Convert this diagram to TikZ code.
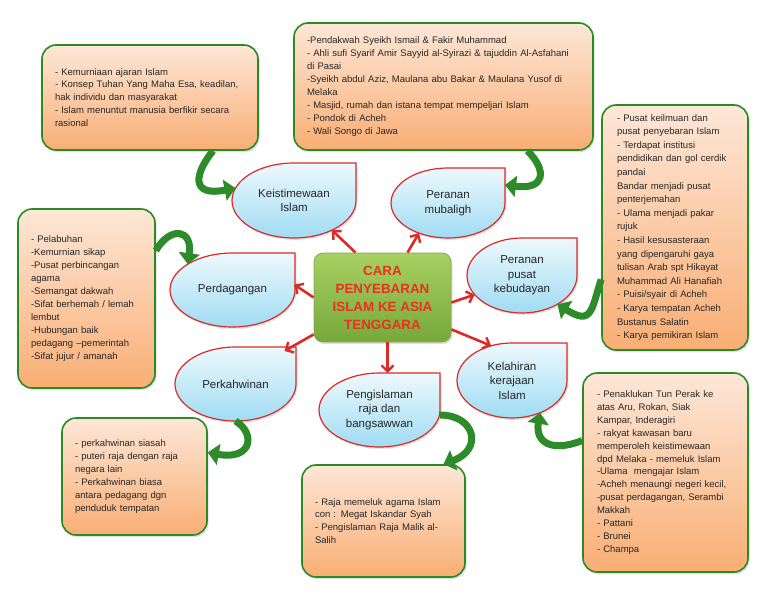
\documentclass[tikz,border=0pt]{standalone}
\usepackage{fontspec}
\setmainfont{Liberation Sans}
\usetikzlibrary{arrows.meta, positioning, backgrounds, calc, shapes.geometric, shadows}
\definecolor{notegreen}{HTML}{2B8A24}
\definecolor{notetop}{HTML}{FDE7D7}
\definecolor{notebottom}{HTML}{F9AE74}
\definecolor{dropred}{HTML}{DC2A26}
\definecolor{droptop}{HTML}{EDF9FD}
\definecolor{dropbottom}{HTML}{A0DCF3}
\definecolor{maintop}{HTML}{A8D063}
\definecolor{mainbottom}{HTML}{77A83A}
\definecolor{mainred}{HTML}{E8321C}
\definecolor{curlgreen}{HTML}{2E8B2A}

\begin{document}
\begin{tikzpicture}[
    x=1pt, y=1pt,
    note/.style={
        draw=notegreen, line width=1.6pt, top color=notetop, bottom color=notebottom,
        rectangle, rounded corners=14pt, align=left,
        inner xsep=13pt, inner ysep=4pt,
        font=\fontsize{9.5}{12.9}\selectfont, text=black!85,
        drop shadow={opacity=0.25, shadow xshift=1.5pt, shadow yshift=-2pt}
    },
    bubble/.style={
        ellipse, inner sep=0pt, outer sep=0pt, align=center,
        font=\fontsize{11.5}{14.5}\selectfont, text=black!85
    },
    drop/.style={
        draw=dropred, line width=1.2pt, top color=droptop, bottom color=dropbottom,
        drop shadow={opacity=0.2, shadow xshift=1.5pt, shadow yshift=-2pt}
    },
    main/.style={
        draw=maintop!80!black, thick, top color=maintop, bottom color=mainbottom,
        rectangle, rounded corners=9pt, align=center,
        minimum width=137pt, minimum height=89pt,
        font=\fontsize{13.4}{18}\bfseries, text=mainred,
        drop shadow={opacity=0.25, shadow xshift=1.5pt, shadow yshift=-2pt}
    },
    arr/.style={
        -{Straight Barb[length=6pt, width=12pt, line width=2.4pt]}, line width=2.6pt, draw=dropred
    },
    curl/.style={
        -{Triangle[length=11pt, width=21pt]}, line width=7pt, draw=curlgreen
    },
]
\useasboundingbox (0,0) rectangle (768,-594);

\node[main] (cara) at (382.5,-297.5) {CARA\\PENYEBARAN\\ISLAM KE ASIA\\TENGGARA};

\node[bubble, minimum width=124pt, minimum height=75pt] (keist) at (294,-200.5) {Keistimewaan\\Islam};
\node[bubble, minimum width=114pt, minimum height=70pt] (mubaligh) at (448,-203) {Peranan\\mubaligh};
\node[bubble, minimum width=125pt, minimum height=74pt] (dagang) at (232.5,-290) {Perdagangan};
\node[bubble, minimum width=110pt, minimum height=75pt] (budaya) at (522,-275.5) {Peranan\\pusat\\kebudayan};
\node[bubble, minimum width=121pt, minimum height=74pt] (kahwin) at (235.5,-384) {Perkahwinan};
\node[bubble, minimum width=121pt, minimum height=74pt] (raja) at (379.5,-410) {Pengislaman\\raja dan\\bangsawwan};
\node[bubble, minimum width=110pt, minimum height=75pt] (lahir) at (512,-380.5) {Kelahiran\\kerajaan\\Islam};

\begin{scope}[on background layer]
\foreach \b in {keist, mubaligh, dagang, budaya, kahwin, raja, lahir}
    \path[drop] let \p1=(\b.east), \p2=(\b.north), \p3=(\b.center) in
        (\b.north) -- (\b.north -| \b.east) -- (\b.east)
        arc[start angle=0, end angle=-270, x radius={\x1-\x3}, y radius={\y2-\y3}] -- cycle;
\end{scope}

\node[note, text width=190pt, minimum height=105pt] (keistnote) at (150,-97.5)
    {- Kemurniaan ajaran Islam\\- Konsep Tuhan Yang Maha Esa, keadilan,\\hak individu dan masyarakat\\- Islam menuntut manusia berfikir secara\\rasional};
\node[note, text width=273pt, minimum height=127pt] (mubalighnote) at (443.5,-86.5)
    {-Pendakwah Syeikh Ismail \& Fakir Muhammad\\- Ahli sufi Syarif Amir Sayyid al-Syirazi \& tajuddin Al-Asfahani\\di Pasai\\-Syeikh abdul Aziz, Maulana abu Bakar \& Maulana Yusof di\\Melaka\\- Masjid, rumah dan istana tempat mempeljari Islam\\- Pondok di Acheh\\- Wali Songo di Jawa};
\node[note, text width=116pt, inner xsep=15pt, minimum height=245pt,
      font=\fontsize{9.5}{13.6}\selectfont] (budayanote) at (675,-227.5)
    {- Pusat keilmuan dan\\pusat penyebaran Islam\\- Terdapat institusi\\pendidikan dan gol cerdik\\pandai\\Bandar menjadi pusat\\penterjemahan\\- Ulama menjadi pakar\\rujuk\\- Hasil kesusasteraan\\yang dipengaruhi gaya\\tulisan Arab spt Hikayat\\Muhammad Ali Hanafiah\\- Puisi/syair di Acheh\\- Karya tempatan Acheh\\Bustanus Salatin\\- Karya pemikiran Islam};
\node[note, text width=111pt, minimum height=179pt] (dagangnote) at (86.5,-298.5)
    {- Pelabuhan\\-Kemurnian sikap\\-Pusat perbincangan\\agama\\-Semangat dakwah\\-Sifat berhemah / lemah\\lembut\\-Hubungan baik\\pedagang --pemerintah\\-Sifat jujur / amanah};
\node[note, text width=119pt, minimum height=117pt] (kahwinnote) at (134.5,-476.5)
    {- perkahwinan siasah\\- puteri raja dengan raja\\negara lain\\- Perkahwinan biasa\\antara pedagang dgn\\penduduk tempatan};
\node[note, text width=137pt, minimum height=112pt] (rajanote) at (383.5,-521)
    {- Raja memeluk agama Islam\\con : Megat Iskandar Syah\\- Pengislaman Raja Malik al-\\Salih};
\node[note, text width=137pt, inner xsep=14pt, minimum height=199pt] (lahirnote) at (665.5,-472.5)
    {- Penaklukan Tun Perak ke\\atas Aru, Rokan, Siak\\Kampar, Inderagiri\\- rakyat kawasan baru\\memperoleh keistimewaan\\dpd Melaka - memeluk Islam\\-Ulama\ \ mengajar Islam\\-Acheh menaungi negeri kecil,\\-pusat perdagangan, Serambi\\Makkah\\- Pattani\\- Brunei\\- Champa};

% red arrows from the centre
\draw[arr] ([xshift=-27pt]cara.north) -- (keist.-38);
\draw[arr] ([xshift=25pt]cara.north) -- (mubaligh.-134);
\draw[arr] (cara.west) -- (dagang.5);
\draw[arr] ([yshift=-5pt]cara.east) -- (budaya.-158);
\draw[arr] ([yshift=8pt]cara.south west) -- ([xshift=49pt, yshift=-4pt]kahwin.north);
\draw[arr] ([xshift=5pt]cara.south) -- ([xshift=8pt]raja.north);
\draw[arr] ([yshift=13pt]cara.south east) -- (lahir.121);

% green curls between notes and bubbles
\draw[curl] ([xshift=63pt]keistnote.south) .. controls +(-18,-22) and +(-46,-9) .. (keist.168);
\draw[curl] ([xshift=84pt]mubalighnote.south) .. controls +(20,-20) and +(40,-5) .. ([yshift=18pt]mubaligh.east);
\draw[curl] ([yshift=-52pt]budayanote.west) .. controls +(-10,-30) and +(35,-22) .. (budaya.-39);
\draw[curl] ([yshift=48pt]dagangnote.east) .. controls +(15,25) and +(5,35) .. (dagang.150);
\draw[curl] (kahwin.south) .. controls +(20,-12) and +(45,-8) .. ([yshift=24pt]kahwinnote.east);
\draw[curl] ([yshift=-5pt]raja.east) .. controls +(35,0) and +(40,15) .. ([xshift=60pt]rajanote.north);
\draw[curl] ([yshift=32pt]lahirnote.west) .. controls +(-30,-12) and +(-5,-30) .. (lahir.-49);
\end{tikzpicture}
\end{document}
